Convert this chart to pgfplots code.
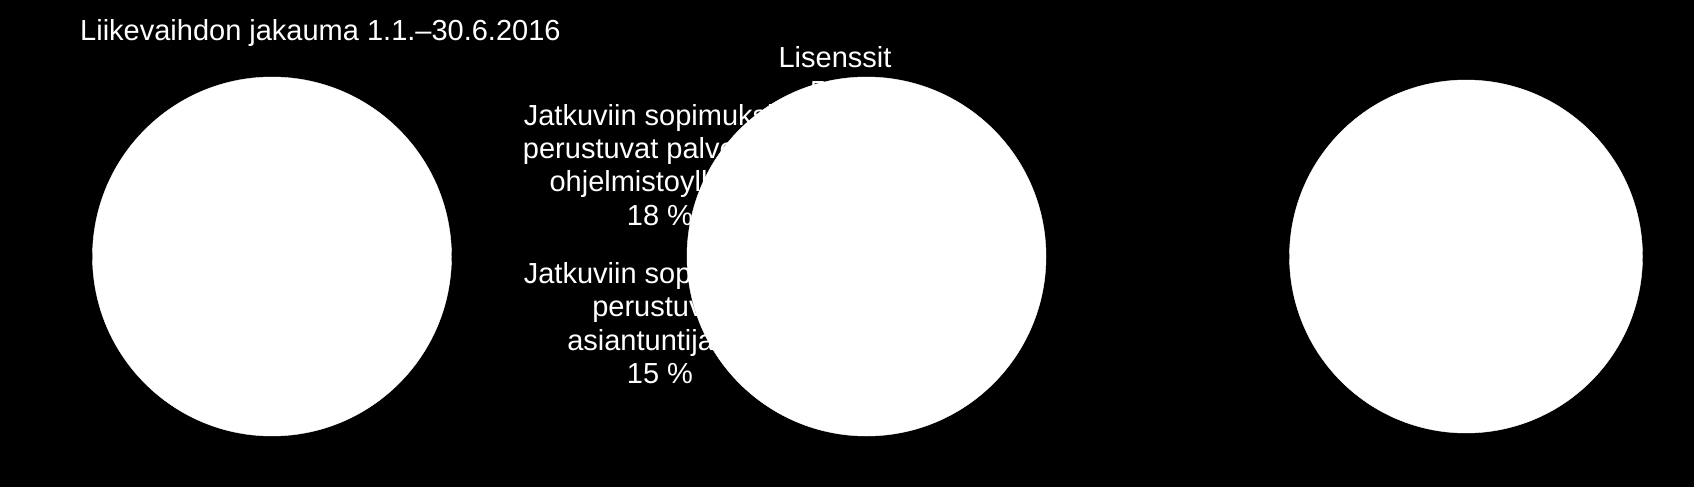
\documentclass[border=0pt]{standalone}
\usepackage{pgfplots}
\pgfplotsset{compat=1.18}
\usepackage{fontspec}
\setmainfont{Liberation Sans}
\begin{document}
\begin{tikzpicture}
\begin{axis}[
  width=1694pt, height=487pt, scale only axis,
  xmin=0, xmax=1694, ymin=0, ymax=487, y dir=reverse,
  hide axis, clip=false,
]
\fill[black] (axis cs:0,0) rectangle (axis cs:1694,487);
\begin{scope}[every node/.style={white, inner sep=0pt, font=\fontsize{29}{34}\selectfont}]
\node[anchor=base west] at (axis cs:80,41) {Liikevaihdon jakauma 1.1.–30.6.2016};
\node[anchor=base] at (axis cs:835,67) {Lisenssit};
\node[anchor=base] at (axis cs:835,101) {5 \%};
\node[anchor=base] at (axis cs:660,125) {Jatkuviin sopimuksiin};
\node[anchor=base] at (axis cs:660,158.5) {perustuvat palvelut ja};
\node[anchor=base] at (axis cs:660,191.5) {ohjelmistoylläpito};
\node[anchor=base] at (axis cs:660,225) {18 \%};
\node[anchor=base] at (axis cs:660,283) {Jatkuviin sopimuksiin};
\node[anchor=base] at (axis cs:660,316) {perustuvat};
\node[anchor=base] at (axis cs:660,350) {asiantuntijatyö};
\node[anchor=base] at (axis cs:660,383) {15 \%};
\end{scope}
\addplot[only marks, mark=*, mark size=179.5pt, draw=white, fill=white] coordinates {(272,256.5) (866.5,256.5)};
\addplot[only marks, mark=*, mark size=176.5pt, draw=white, fill=white] coordinates {(1466,256.5)};
\end{axis}
\end{tikzpicture}
\end{document}
